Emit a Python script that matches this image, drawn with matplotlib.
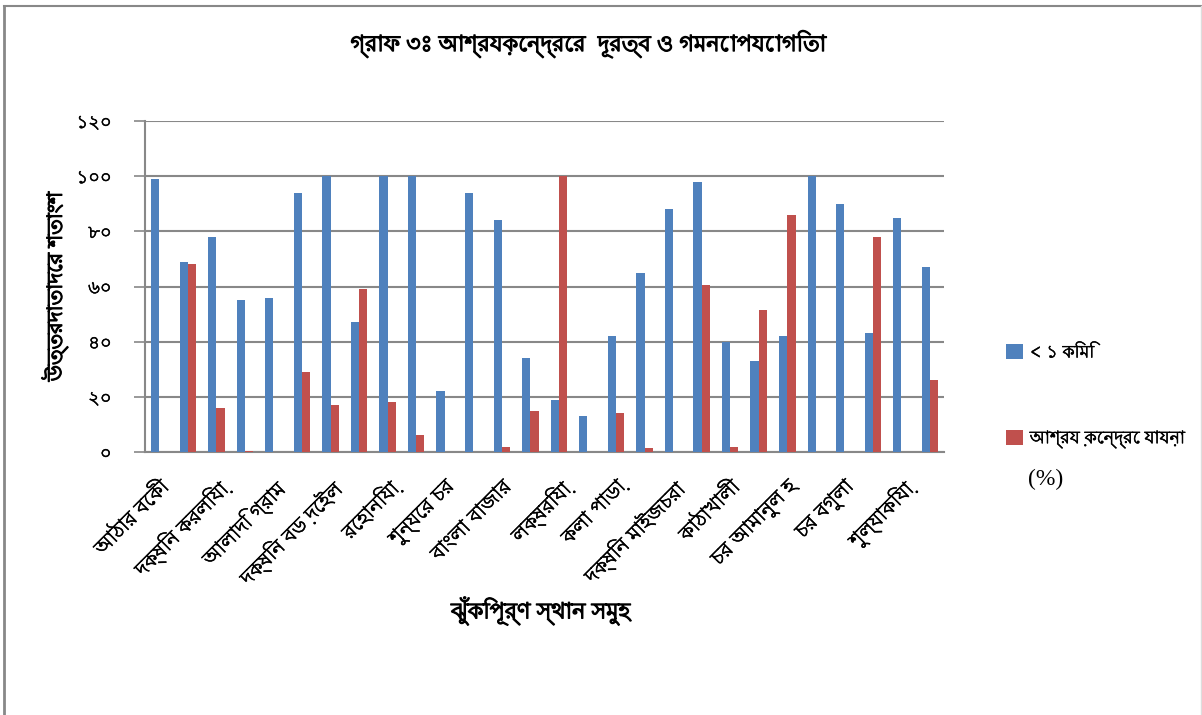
import matplotlib
matplotlib.use('Agg')
import matplotlib.pyplot as plt
import matplotlib.font_manager as fm
import matplotlib.patheffects as pe
from matplotlib.ft2font import FT2Font
from matplotlib.lines import Line2D
import numpy as np

# খুঁজে দেখা: বাংলা গ্লিফ আছে এমন ফন্ট
bn_font = None
files = sorted(fm.findSystemFonts(), key=lambda p: ('bengali' not in p.lower(), p))
for f in files:
    try:
        if 0x0995 in FT2Font(f).get_charmap():
            fm.fontManager.addfont(f)
            bn_font = fm.FontProperties(fname=f).get_name()
            break
    except Exception:
        pass

if bn_font:
    plt.rcParams['font.family'] = [bn_font, 'DejaVu Sans']
else:
    plt.rcParams['font.family'] = ['DejaVu Sans']

# ডেটা
tick_labels = ['আঠার বেকী', 'দক্ষিন করলিয়া', 'আলাদি গ্রাম', 'দক্ষিন বড় দেইল',
               'রেহানিয়া', 'শুন্যের চর', 'বাংলা বাজার', 'লক্ষরিয়া', 'কলা পাড়া',
               'দক্ষিন মাইজচরা', 'কাঠাখালী', 'চর আমানুল হ', 'চর বগুলা', 'শুল্যাকিয়া']

less_1km = [99, 69, 78, 55, 56, 94, 100, 47, 100, 100,
            22, 94, 84, 34, 19, 13, 42, 65, 88, 98,
            40, 33, 42, 100, 90, 43, 85, 67]
not_going = [0, 68, 16, 0.5, 0, 29, 17, 59, 18, 6,
             0, 0, 2, 15, 100, 0, 14, 1.5, 0, 60.5,
             2, 51.5, 86, 0, 0, 78, 0, 26]

y_ticks = [0, 20, 40, 60, 80, 100, 120]
y_tick_labels = ['০', '২০', '৪০', '৬০', '৮০', '১০০', '১২০']

bold = [pe.withStroke(linewidth=0.9, foreground='black')]
semi = [pe.withStroke(linewidth=0.4, foreground='black')]

fig = plt.figure(figsize=(12.02, 7.15), dpi=100)
ax = fig.add_axes([0.1206, 0.3678, 0.665, 0.463])

x = np.arange(len(less_1km))
w = 0.29
ax.bar(x - w/2, less_1km, w, color='#4F81BD', label='< ১ কিমি', zorder=3)
ax.bar(x + w/2, not_going, w, color='#C0504D', label='আশ্রয় কেন্দ্রে যায়না', zorder=3)

ax.set_xlim(-0.5, len(x) - 0.5)
ax.set_ylim(0, 120)
ax.set_yticks(y_ticks)
ax.set_yticklabels(y_tick_labels, fontsize=13)
ax.set_xticks(x[::2])
ax.set_xticklabels(tick_labels, rotation=45, ha='right', va='top',
                   rotation_mode='anchor', fontsize=14.5)
ax.tick_params(axis='x', length=0, pad=18)
ax.tick_params(axis='y', length=8, color='#888888', width=1.2, pad=16)
for t in ax.get_xticklabels() + ax.get_yticklabels():
    t.set_path_effects(semi)

ax.grid(axis='y', color='#888888', linewidth=1.5, zorder=0)
for s in ['top', 'right']:
    ax.spines[s].set_visible(False)
for s in ['left', 'bottom']:
    ax.spines[s].set_color('#888888')
    ax.spines[s].set_linewidth(1.5)

yl = ax.set_ylabel('উত্তরদাতাদের শতাংশ', fontsize=15, fontweight='bold')
yl.set_path_effects(bold)
ax.yaxis.set_label_coords(-0.096, 0.5)
fig.text(0.45, 0.145, 'ঝুঁকিপূর্ণ স্থান সমুহ', fontsize=16, fontweight='bold',
         ha='center', va='center', path_effects=bold)
fig.text(0.49, 0.938, 'গ্রাফ ৩ঃ আশ্রয়কেন্দ্রের  দূরত্ব ও গমনোপযোগিতা', fontsize=16,
         fontweight='bold', ha='center', va='center', path_effects=bold)

leg = ax.legend(loc='upper left', bbox_to_anchor=(1.058, 0.375), frameon=False,
                fontsize=12.5, handlelength=0.95, handleheight=0.95, handletextpad=0.4,
                labelspacing=3.9)
for t in leg.get_texts():
    t.set_path_effects(semi)
fig.text(0.855, 0.329, '(%)', fontsize=17, ha='left', va='center',
         family=['Liberation Serif', 'DejaVu Serif'])

# চার্টের চারপাশের রেখা
fig.add_artist(Line2D([0.0035, 0.0035], [0.0, 0.9923], color='#888888', lw=2))
fig.add_artist(Line2D([0.0035, 1.0], [0.9923, 0.9923], color='#888888', lw=1.5))
fig.add_artist(Line2D([0.999, 0.999], [0.0, 0.9923], color='#dddddd', lw=1))

plt.savefig('out.png', dpi=100)
